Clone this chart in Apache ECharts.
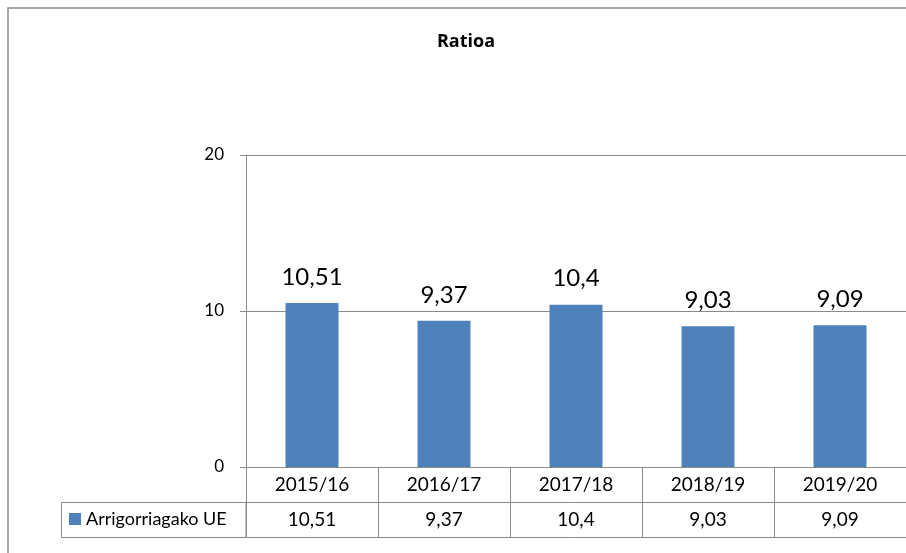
<!DOCTYPE html>
<html>
<head>
<meta charset="utf-8">
<script src="https://cdn.jsdelivr.net/npm/echarts@6/dist/echarts.min.js"></script>
<style>
html, body { margin: 0; padding: 0; background: #fff; }
#chart { width: 906px; height: 553px; }
</style>
</head>
<body>
<div id="chart"></div>
<script>
var categories = ['2015/16', '2016/17', '2017/18', '2018/19', '2019/20'];
var seriesName = 'Arrigorriagako UE';
var values = [10.51, 9.37, 10.4, 9.03, 9.09];
var yTicks = [0, 10, 20];

var gray = '#8a8a8a';
var barColor = '#4f81bd';
var font = 'Lato';

function fmt(v) {
	return String(v).replace('.', ',');
}

var myChart = echarts.init(document.getElementById('chart'));

var option = {
	animation: false,
	backgroundColor: '#fff',
	textStyle: { fontFamily: font, color: '#000' },
	title: {
		text: 'Ratioa',
		left: 461,
		textAlign: 'center',
		top: 28,
		textStyle: { fontSize: 18, fontWeight: 'bold', color: '#000', fontFamily: 'Open Sans' }
	},
	legend: {
		data: [seriesName],
		left: 69,
		top: 510,
		padding: 0,
		itemWidth: 12,
		itemHeight: 12,
		icon: 'rect',
		textStyle: { fontSize: 18, color: '#000', fontFamily: font, padding: [0, 0, 0, 0] }
	},
	grid: {
		left: 246,
		right: -10,
		top: 155,
		bottom: 86,
		containLabel: false
	},
	xAxis: [{
		type: 'category',
		data: categories,
		position: 'bottom',
		axisLine: { show: true, lineStyle: { color: gray, width: 1 } },
		axisTick: { show: true, length: 70, interval: 0, alignWithLabel: false, lineStyle: { color: gray, width: 1 } },
		axisLabel: { margin: 8, fontSize: 19, lineHeight: 19, color: '#000', fontFamily: font, interval: 0 },
		splitLine: { show: false }
	}, {
		type: 'category',
		data: values.map(fmt),
		position: 'bottom',
		offset: 35,
		axisLine: { show: true, lineStyle: { color: gray, width: 1 } },
		axisTick: { show: false },
		axisLabel: { margin: 8, fontSize: 19, lineHeight: 19, color: '#000', fontFamily: font, interval: 0 },
		splitLine: { show: false }
	}, {
		type: 'category',
		data: categories,
		position: 'bottom',
		offset: 70,
		axisLine: { show: true, lineStyle: { color: gray, width: 1 } },
		axisTick: { show: false },
		axisLabel: { show: false },
		splitLine: { show: false }
	}],
	yAxis: {
		type: 'value',
		min: yTicks[0],
		max: yTicks[yTicks.length - 1],
		interval: 10,
		axisLine: { show: true, lineStyle: { color: gray, width: 1 } },
		axisTick: { show: true, length: 6, lineStyle: { color: gray, width: 1 } },
		axisLabel: { margin: 22, fontSize: 17, color: '#000', fontFamily: font },
		splitLine: { show: true, lineStyle: { color: gray, width: 1 } }
	},
	graphic: [{
		type: 'rect',
		shape: { x: 8, y: 8, width: 930, height: 570 },
		style: { fill: 'none', stroke: gray, lineWidth: 1.5 },
		silent: true
	}, {
		type: 'rect',
		shape: { x: 61.5, y: 502.5, width: 184.5, height: 35 },
		style: { fill: 'none', stroke: gray, lineWidth: 1 },
		silent: true
	}],
	series: [{
		name: seriesName,
		type: 'bar',
		xAxisIndex: 0,
		barWidth: 53,
		itemStyle: { color: barColor },
		label: {
			show: true,
			position: 'top',
			distance: 14,
			fontSize: 24,
			color: '#000',
			fontFamily: font,
			formatter: function(p) { return fmt(p.value); }
		},
		data: values
	}]
};

myChart.setOption(option);
</script>
</body>
</html>
